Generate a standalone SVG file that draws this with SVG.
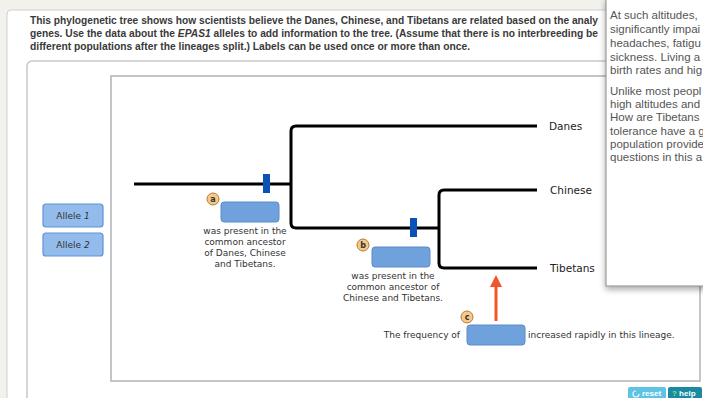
<svg xmlns="http://www.w3.org/2000/svg" width="703" height="398" viewBox="0 0 703 398">
<style>
.intro{font-family:"Liberation Sans",Arial,sans-serif;font-size:10px;font-weight:bold;fill:#3a3a3a}
.pop{font-family:"Liberation Sans",Arial,sans-serif;font-size:11.5px;fill:#555}
.t{font-family:"DejaVu Sans",Verdana,sans-serif;font-size:9px;fill:#333}
.lbl{font-family:"DejaVu Sans",Verdana,sans-serif;font-size:10.5px;fill:#222}
.branch{fill:none;stroke:#000;stroke-width:3;stroke-linejoin:round}
.mark{fill:#0a52b5}
.drop{fill:#6fa1dc;stroke:#5b8ccb;stroke-width:1}
.badge{fill:#f5c98c;stroke:#b87a30;stroke-width:1}
.bl{font-family:"DejaVu Sans",Verdana,sans-serif;font-size:8px;font-weight:bold;fill:#333;text-anchor:middle}
.allele{fill:#93bcec;stroke:#5f93d6;stroke-width:1.2}
</style>
<defs>
<filter id="sh" x="-10%" y="-10%" width="130%" height="130%">
<feGaussianBlur in="SourceAlpha" stdDeviation="3"/>
<feOffset dx="0" dy="3"/>
<feComponentTransfer><feFuncA type="linear" slope="0.35"/></feComponentTransfer>
<feMerge><feMergeNode/><feMergeNode in="SourceGraphic"/></feMerge>
</filter>
</defs>
<rect width="703" height="398" fill="#f2f1eb"/>
<rect x="7" y="10" width="720" height="400" rx="4" fill="#fff" stroke="#cfcfcf"/>
<g id="intro">
<text class="intro" x="30" y="24" textLength="568" lengthAdjust="spacingAndGlyphs">This phylogenetic tree shows how scientists believe the Danes, Chinese, and Tibetans are related based on the analy</text>
<text class="intro" x="30" y="37" textLength="568" lengthAdjust="spacingAndGlyphs">genes. Use the data about the <tspan font-style="italic">EPAS1</tspan> alleles to add information to the tree. (Assume that there is no interbreeding be</text>
<text class="intro" x="30" y="50" textLength="440" lengthAdjust="spacingAndGlyphs">different populations after the lineages split.) Labels can be used once or more than once.</text>
</g>
<rect id="frame" x="27" y="61" width="700" height="360" rx="5" fill="#fff" stroke="#c8c8c8" stroke-width="1.5"/>
<rect id="treebox" x="111" y="76" width="589" height="305" fill="#fff" stroke="#b0b4b8" stroke-width="1.5"/>
<g id="alleles">
<g id="allele1"><rect class="allele" x="43" y="204" width="60" height="23" rx="3"/><text class="t" x="73" y="219" text-anchor="middle">Allele <tspan font-style="italic">1</tspan></text></g>
<g id="allele2"><rect class="allele" x="43" y="233" width="60" height="23" rx="3"/><text class="t" x="73" y="248" text-anchor="middle">Allele <tspan font-style="italic">2</tspan></text></g>
</g>
<g id="connectors">
<path class="branch" d="M134 184 H291"/>
<path class="branch" d="M537 126 H296 Q291 126 291 131 V223 Q291 228 296 228 H439"/>
<path class="branch" d="M537 190 H444 Q439 190 439 195 V263 Q439 268 444 268 H537"/>
<line x1="496" y1="321" x2="496" y2="285" stroke="#f0562a" stroke-width="3"/>
<polygon points="496,275 502,287 490,287" fill="#f0562a"/>
</g>
<g id="markers">
<rect class="mark" x="263" y="174" width="7" height="19"/>
<rect class="mark" x="410" y="218" width="7" height="19"/>
</g>
<g id="tips">
<text class="lbl" x="549" y="130">Danes</text>
<text class="lbl" x="550" y="194">Chinese</text>
<text class="lbl" x="550" y="272">Tibetans</text>
</g>
<g id="label-a">
<circle class="badge" cx="213" cy="199" r="6"/><text class="bl" x="213" y="202">a</text>
<rect class="drop" x="221" y="202" width="58" height="20" rx="3"/>
<text class="t" text-anchor="middle"><tspan x="245" y="234">was present in the</tspan><tspan x="245" y="245">common ancestor</tspan><tspan x="245" y="256">of Danes, Chinese</tspan><tspan x="245" y="267">and Tibetans.</tspan></text>
</g>
<g id="label-b">
<circle class="badge" cx="363" cy="245" r="6"/><text class="bl" x="363" y="248">b</text>
<rect class="drop" x="372" y="247" width="58" height="20" rx="3"/>
<text class="t" text-anchor="middle"><tspan x="393" y="279">was present in the</tspan><tspan x="393" y="290">common ancestor of</tspan><tspan x="393" y="301">Chinese and Tibetans.</tspan></text>
</g>
<g id="label-c">
<circle class="badge" cx="467" cy="317" r="6"/><text class="bl" x="467" y="320">c</text>
<text class="t" x="460" y="338" text-anchor="end">The frequency of</text>
<rect class="drop" x="467" y="325" width="58" height="20" rx="3"/>
<text class="t" x="528" y="338">increased rapidly in this lineage.</text>
</g>
<g id="buttons">
<rect x="628" y="387" width="38" height="14" rx="2" fill="#5fc3e4"/>
<path d="M636 391 a3 3 0 1 0 3 3" fill="none" stroke="#e8f8ff" stroke-width="1.2"/>
<text x="642" y="396" font-family="Liberation Sans,Arial,sans-serif" font-size="8" font-weight="bold" fill="#fff">reset</text>
<rect x="668" y="387" width="34" height="14" rx="2" fill="#1a8aa4"/>
<text x="672" y="396" font-family="Liberation Sans,Arial,sans-serif" font-size="8" font-weight="bold" fill="#fff"><tspan fill="#8be07a">?</tspan> help</text>
</g>
<g id="popup">
<rect x="606" y="-2" width="110" height="288" fill="#fff" stroke="#8a8a8a" filter="url(#sh)"/>
<text class="pop"><tspan x="610" y="19">At such altitudes,</tspan><tspan x="610" y="33">significantly impai</tspan><tspan x="610" y="47">headaches, fatigu</tspan><tspan x="610" y="61">sickness. Living a</tspan><tspan x="610" y="74">birth rates and hig</tspan><tspan x="610" y="95">Unlike most peopl</tspan><tspan x="610" y="108">high altitudes and</tspan><tspan x="610" y="121">How are Tibetans</tspan><tspan x="610" y="135">tolerance have a g</tspan><tspan x="610" y="148">population provide</tspan><tspan x="610" y="161">questions in this a</tspan></text>
</g>
</svg>
